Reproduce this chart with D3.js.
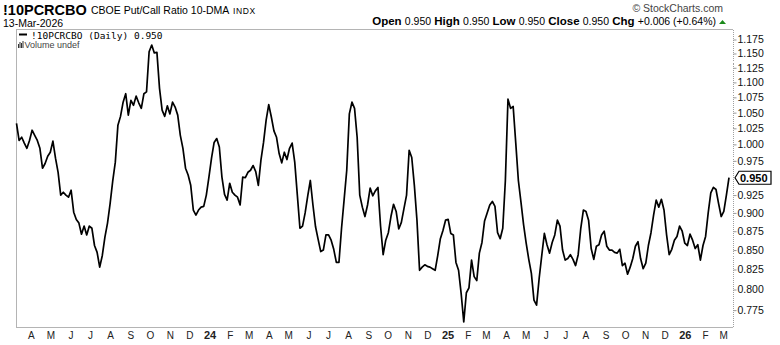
<!DOCTYPE html>
<html>
<head>
<meta charset="utf-8">
<script src="https://cdn.jsdelivr.net/npm/d3@7"></script>
<style>
  html, body { margin: 0; padding: 0; background: #fff; }
  svg { display: block; font-family: "Liberation Sans", Arial, sans-serif; }
</style>
</head>
<body>
<svg id="chart" width="780" height="345"></svg>
<script>
// CBOE Put/Call Ratio, 10-day moving average, sampled every 4 calendar days
const symbol = "!10PCRCBO";
const title = "CBOE Put/Call Ratio 10-DMA";
const exchange = "INDX";
const asOf = "13-Mar-2026";
const startDate = "2023-03-13";
const stepDays = 4;

const ratio = [
  1.033, 1.006, 1.011, 1.002, 0.994, 1.006, 1.022, 1.014, 1.006, 0.994,
  0.964, 0.971, 0.982, 0.988, 1.005, 0.979, 0.958, 0.925, 0.929, 0.925,
  0.922, 0.932, 0.901, 0.891, 0.886, 0.871, 0.882, 0.870, 0.882, 0.879,
  0.856, 0.847, 0.828, 0.843, 0.867, 0.886, 0.913, 0.945, 0.973, 1.030,
  1.044, 1.067, 1.081, 1.046, 1.070, 1.062, 1.077, 1.066, 1.057, 1.081,
  1.084, 1.153, 1.165, 1.151, 1.152, 1.090, 1.054, 1.044, 1.061, 1.048,
  1.067, 1.059, 1.046, 1.014, 0.994, 0.964, 0.954, 0.939, 0.904, 0.897,
  0.904, 0.908, 0.909, 0.925, 0.951, 0.979, 1.003, 1.009, 0.996, 0.951,
  0.926, 0.918, 0.942, 0.929, 0.925, 0.922, 0.911, 0.951, 0.950, 0.958,
  0.961, 0.968, 0.959, 0.939, 0.976, 1.003, 1.038, 1.063, 1.043, 1.021,
  1.011, 0.986, 0.972, 0.988, 0.977, 0.994, 1.002, 0.973, 0.925, 0.879,
  0.882, 0.900, 0.924, 0.946, 0.911, 0.881, 0.864, 0.848, 0.850, 0.870,
  0.870, 0.863, 0.851, 0.834, 0.834, 0.879, 0.919, 0.961, 1.048, 1.067,
  1.057, 1.011, 0.925, 0.908, 0.895, 0.911, 0.935, 0.924, 0.931, 0.936,
  0.882, 0.844, 0.863, 0.873, 0.895, 0.912, 0.902, 0.878, 0.887, 0.906,
  0.925, 0.991, 0.980, 0.939, 0.890, 0.824, 0.828, 0.831, 0.829, 0.828,
  0.826, 0.824, 0.843, 0.865, 0.876, 0.890, 0.891, 0.872, 0.870, 0.834,
  0.824, 0.795, 0.761, 0.796, 0.802, 0.837, 0.816, 0.811, 0.846, 0.860,
  0.889, 0.900, 0.911, 0.916, 0.909, 0.873, 0.865, 0.879, 0.946, 1.072,
  1.057, 1.060, 1.002, 0.946, 0.915, 0.884, 0.859, 0.838, 0.820, 0.787,
  0.781, 0.814, 0.843, 0.872, 0.857, 0.846, 0.860, 0.870, 0.890, 0.882,
  0.850, 0.837, 0.839, 0.844, 0.838, 0.830, 0.844, 0.879, 0.904, 0.902,
  0.890, 0.852, 0.838, 0.855, 0.857, 0.870, 0.875, 0.855, 0.850, 0.850,
  0.847, 0.846, 0.851, 0.830, 0.833, 0.819, 0.828, 0.839, 0.855, 0.861,
  0.839, 0.826, 0.833, 0.856, 0.873, 0.897, 0.918, 0.908, 0.919, 0.904,
  0.870, 0.844, 0.851, 0.863, 0.868, 0.882, 0.875, 0.859, 0.856, 0.871,
  0.863, 0.852, 0.857, 0.837, 0.856, 0.868, 0.900, 0.928, 0.936, 0.933,
  0.913, 0.895, 0.902, 0.925, 0.950
];

const yTicks = [0.775, 0.800, 0.825, 0.850, 0.875, 0.900, 0.925,
                0.975, 1.000, 1.025, 1.050, 1.075, 1.100, 1.125, 1.150, 1.175];
const yDomain = [0.7546, 1.1932];
const quote = { open: 0.950, high: 0.950, low: 0.950, close: 0.950, chg: "+0.006", chgPct: "+0.64%" };

const parse = d3.timeParse("%Y-%m-%d");
const t0 = parse(startDate);
const data = ratio.map((v, i) => ({ date: d3.timeDay.offset(t0, i * stepDays), value: v }));
const last = data[data.length - 1];

const plot = { left: 16, right: 733, top: 29.5, bottom: 327.5 };
const svg = d3.select("#chart");
const f3 = d3.format(".3f");

const x = d3.scaleTime()
  .domain([data[0].date, last.date])
  .range([16.5, 729]);
const y = d3.scaleLog()
  .domain(yDomain)
  .range([plot.bottom, plot.top]);

// frame
svg.append("path")
  .attr("d", `M${plot.right},${plot.top}H${plot.left}V${plot.bottom}H${plot.right}`)
  .attr("fill", "none").attr("stroke", "#b4b4b4").attr("stroke-width", 1)
  .attr("shape-rendering", "crispEdges");
svg.append("line")
  .attr("x1", plot.right + 0.5).attr("x2", plot.right + 0.5)
  .attr("y1", plot.top).attr("y2", plot.bottom)
  .attr("stroke", "#a0a0a0").attr("stroke-dasharray", "1,1")
  .attr("shape-rendering", "crispEdges");

// right axis
const yAxis = d3.axisRight(y)
  .tickValues(yTicks)
  .tickSize(3).tickPadding(1)
  .tickFormat(f3);
const gy = svg.append("g")
  .attr("transform", `translate(${plot.right + 0.5},0)`)
  .call(yAxis);
gy.select(".domain").remove();
gy.selectAll(".tick line").attr("stroke", "#999");
gy.selectAll(".tick text")
  .style("font-family", "'Liberation Sans', Arial, sans-serif")
  .attr("font-size", 10.5).attr("fill", "#111");

// bottom axis: month initials, year numbers in bold
const months = d3.timeMonth.range(d3.timeMonth.ceil(data[0].date), last.date);
const xAxis = d3.axisBottom(x)
  .tickValues(months).tickSize(0).tickPadding(4)
  .tickFormat(d => d.getMonth() === 0 ? d3.timeFormat("%y")(d) : d3.timeFormat("%b")(d)[0]);
const gx = svg.append("g")
  .attr("transform", `translate(0,${plot.bottom})`)
  .call(xAxis);
gx.select(".domain").remove();
gx.selectAll(".tick text")
  .style("font-family", "'Liberation Sans', Arial, sans-serif")
  .attr("fill", "#222")
  .attr("dx", 2)
  .attr("font-weight", d => d.getMonth() === 0 ? "bold" : "normal")
  .attr("font-size", d => d.getMonth() === 0 ? 11 : 10);

// ratio line
svg.append("path")
  .datum(data)
  .attr("fill", "none")
  .attr("stroke", "#000")
  .attr("stroke-width", 1.7)
  .attr("stroke-linejoin", "round")
  .attr("d", d3.line().x(d => x(d.date)).y(d => y(d.value)));

// last value tag
const ty = y(last.value);
const tag = svg.append("g");
tag.append("path")
  .attr("d", `M${plot.right + 2},${ty} L${plot.right + 6},${ty - 6.5} H${plot.right + 38} V${ty + 6.5} H${plot.right + 6} Z`)
  .attr("fill", "#fff").attr("stroke", "#000").attr("stroke-width", 1.2);
tag.append("text")
  .attr("x", plot.right + 7).attr("y", ty + 4)
  .attr("font-size", 11).attr("font-weight", "bold").attr("fill", "#000")
  .text(f3(last.value));

// header
svg.append("text").attr("x", 3).attr("y", 15)
  .attr("font-size", 14.5).attr("font-weight", "bold").attr("fill", "#000")
  .text(symbol);
svg.append("text").attr("x", 91).attr("y", 14)
  .attr("font-size", 10.5).attr("fill", "#000").text(title);
svg.append("text").attr("x", 233).attr("y", 14)
  .attr("font-size", 8.5).attr("fill", "#000").attr("letter-spacing", 0.6).text(exchange);
svg.append("text").attr("x", 3).attr("y", 27)
  .attr("font-size", 10.5).attr("fill", "#000").text(asOf);

svg.append("text").attr("x", 723).attr("y", 12).attr("text-anchor", "end")
  .attr("font-size", 10.5).attr("fill", "#444").text("\u00a9 StockCharts.com");

const q = svg.append("text").attr("x", 716).attr("y", 25).attr("text-anchor", "end")
  .attr("font-size", 10.5).attr("fill", "#000");
[["Open", f3(quote.open)], ["High", f3(quote.high)], ["Low", f3(quote.low)],
 ["Close", f3(quote.close)], ["Chg", `${quote.chg} (${quote.chgPct})`]].forEach(([k, v], i) => {
  q.append("tspan").attr("font-weight", "bold").attr("font-size", 11.5).text((i ? "  " : "") + k + " ");
  q.append("tspan").text(v);
});
svg.append("path")
  .attr("d", "M719,24 L722.5,20 L726,24 Z")
  .attr("fill", "#1a8a1a");

// legend
svg.append("line").attr("x1", 19).attr("x2", 27).attr("y1", 34.5).attr("y2", 34.5)
  .attr("stroke", "#000").attr("stroke-width", 2);
svg.append("text").attr("x", 31).attr("y", 38.5)
  .style("font-family", "'DejaVu Sans Mono', monospace")
  .attr("font-size", 9.5).attr("fill", "#000")
  .text(`${symbol} (Daily) ${f3(last.value)}`);
const vol = svg.append("g").attr("fill", "#333");
[[18, 44, 1, 4], [19.5, 42, 1, 6], [21, 43, 1, 5], [22.5, 41, 1, 7]].forEach(([bx, by, bw, bh]) =>
  vol.append("rect").attr("x", bx).attr("y", by).attr("width", bw).attr("height", bh));
svg.append("text").attr("x", 24.5).attr("y", 48)
  .attr("font-size", 9).attr("fill", "#444").text("Volume undef");
</script>
</body>
</html>
